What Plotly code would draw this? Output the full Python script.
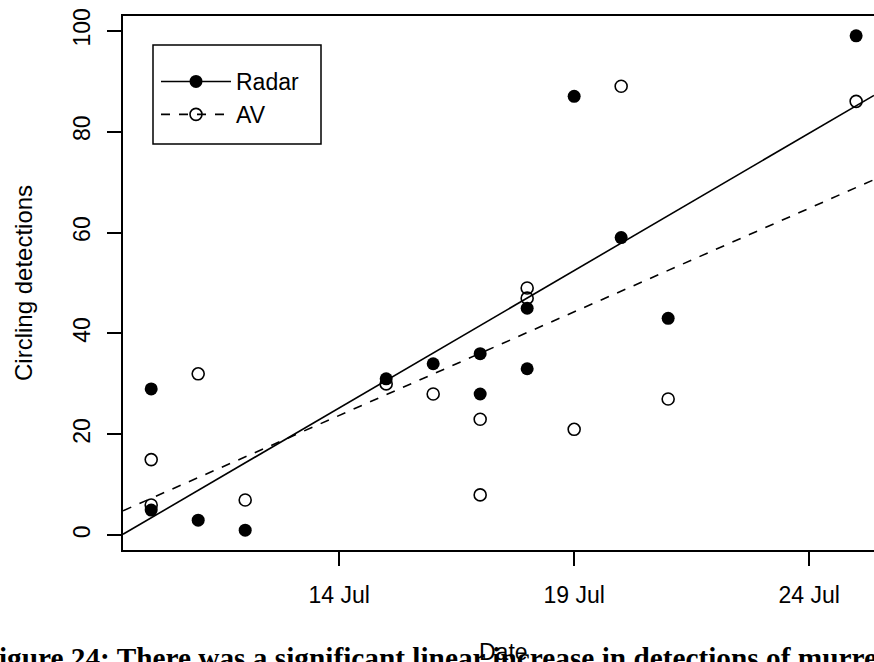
import numpy as np
import pandas as pd
import plotly.graph_objects as go

# ---- data (day of July) ----
radar_day = [10, 10, 11, 12, 15, 16, 17, 17, 18, 18, 19, 20, 21, 25]
radar_val = [29, 5, 3, 1, 31, 34, 36, 28, 33, 45, 87, 59, 43, 99]
av_day = [10, 10, 11, 12, 15, 16, 17, 17, 18, 18, 19, 20, 21, 25]
av_val = [15, 6, 32, 7, 30, 28, 23, 8, 47, 49, 21, 89, 27, 86]
tick_days = [14, 19, 24]
y_ticks = [0, 20, 40, 60, 80, 100]
x_range_days = [9.4, 25.38]
y_range = [-2.92, 102.92]

YEAR = 2010


def to_date(d):
    return pd.Timestamp(YEAR, 7, 1) + pd.to_timedelta(float(d) - 1, unit="D")


def fit_line(days, vals):
    slope, intercept = np.polyfit(np.array(days, float), np.array(vals, float), 1)
    xs = np.array(x_range_days, float)
    return [to_date(x) for x in xs], list(intercept + slope * xs)


FONT = "Liberation Sans, Arial, sans-serif"
FS = 23

fig = go.Figure()

rx, ry = fit_line(radar_day, radar_val)
ax_, ay = fit_line(av_day, av_val)

fig.add_trace(go.Scatter(x=rx, y=ry, mode="lines", line=dict(color="black", width=1.6),
                         showlegend=False, hoverinfo="skip"))
fig.add_trace(go.Scatter(x=ax_, y=ay, mode="lines", line=dict(color="black", width=1.6, dash="dash"),
                         showlegend=False, hoverinfo="skip"))
fig.add_trace(go.Scatter(x=[to_date(d) for d in radar_day], y=radar_val, mode="markers",
                         marker=dict(symbol="circle", size=13, color="black"), showlegend=False))
fig.add_trace(go.Scatter(x=[to_date(d) for d in av_day], y=av_val, mode="markers",
                         marker=dict(symbol="circle-open", size=12, color="black", line=dict(width=1.6)),
                         showlegend=False))

# legend entries
fig.add_trace(go.Scatter(x=[None], y=[None], mode="lines+markers", name="Radar",
                         line=dict(color="black", width=1.6),
                         marker=dict(symbol="circle", size=13, color="black")))
fig.add_trace(go.Scatter(x=[None], y=[None], mode="lines+markers", name="AV",
                         line=dict(color="black", width=1.6, dash="dash"),
                         marker=dict(symbol="circle-open", size=12, color="black", line=dict(width=1.6))))

L, T, B = 123, 16, 112
W, H = 874, 662
pw = W - L
ph = H - T - B


def px2x(p):
    return (p - L) / pw


def px2y(p):
    return (H - B - p) / ph


fig.update_layout(
    width=W, height=H,
    margin=dict(l=L, r=0, t=T, b=B),
    paper_bgcolor="white", plot_bgcolor="white",
    font=dict(family=FONT, size=FS, color="black"),
    showlegend=True,
    legend=dict(x=px2x(156), y=px2y(60), xanchor="left", yanchor="top",
                bgcolor="rgba(0,0,0,0)", borderwidth=0, itemwidth=70,
                font=dict(family=FONT, size=FS, color="black")),
    xaxis=dict(type="date", range=[to_date(x_range_days[0]), to_date(x_range_days[1])],
               tickvals=[to_date(d) for d in tick_days], tickformat="%d %b",
               ticks="outside", ticklen=14, tickwidth=1.5, tickcolor="black",
               ticklabelstandoff=9,
               showline=True, mirror=True, linecolor="black", linewidth=2,
               showgrid=False, zeroline=False,
               tickfont=dict(family=FONT, size=FS, color="black")),
    yaxis=dict(range=y_range, tickvals=y_ticks, tickangle=-90,
               ticks="outside", ticklen=14, tickwidth=1.5, tickcolor="black",
               ticklabelstandoff=8,
               showline=True, linecolor="black", linewidth=2,
               showgrid=False, zeroline=False,
               tickfont=dict(family=FONT, size=FS, color="black")),
    shapes=[dict(type="rect", xref="paper", yref="paper",
                 x0=px2x(153), x1=px2x(321), y0=px2y(144), y1=px2y(45),
                 line=dict(color="black", width=1.5), fillcolor="rgba(0,0,0,0)")],
    annotations=[
        dict(text="Circling detections", xref="paper", yref="paper", x=px2x(23), y=0.5,
             xanchor="center", yanchor="middle", textangle=-90, showarrow=False,
             font=dict(family=FONT, size=24, color="black")),
        dict(text="<b>Figure 24: There was a significant linear increase in detections of murres</b>",
             xref="paper", yref="paper", x=px2x(-21), y=px2y(640), xanchor="left", yanchor="top",
             showarrow=False,
             font=dict(family="Liberation Serif, Times New Roman, serif", size=29.3, color="black")),
        dict(text="Date", xref="paper", yref="paper", x=px2x(504), y=px2y(652),
             xanchor="center", yanchor="middle", showarrow=False,
             font=dict(family=FONT, size=FS, color="black")),
    ],
)

fig.write_html("out.html")
